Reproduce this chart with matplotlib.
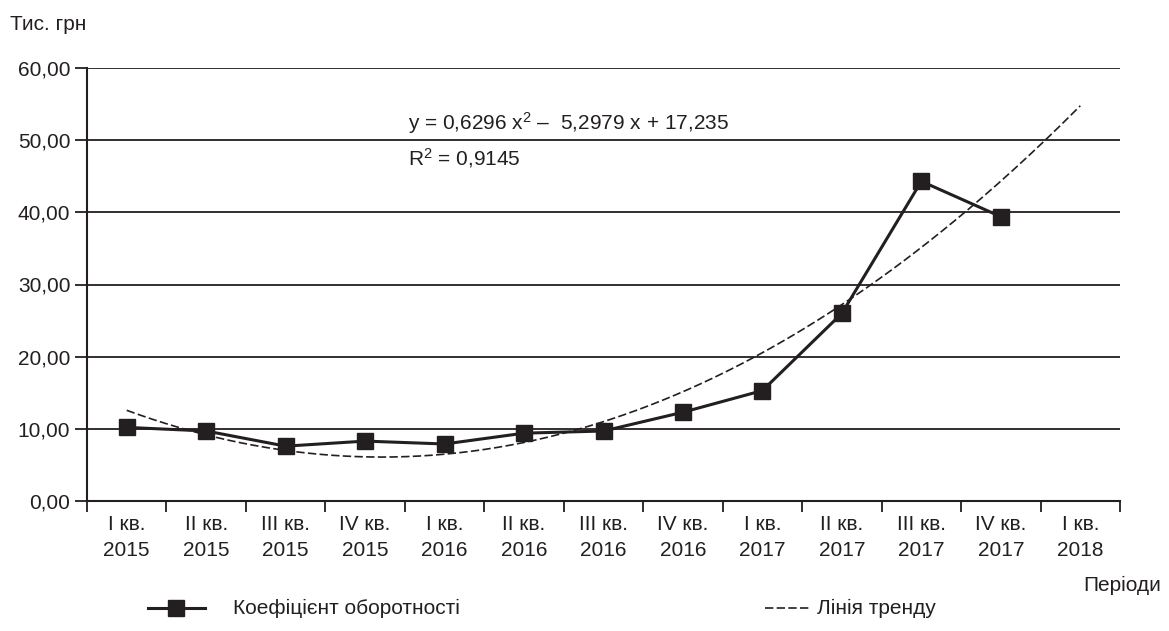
import matplotlib
matplotlib.use("Agg")
import matplotlib.pyplot as plt
from matplotlib.lines import Line2D
import numpy as np

plt.rcParams['font.family'] = ['Liberation Sans', 'DejaVu Sans']
plt.rcParams['mathtext.fontset'] = 'custom'
plt.rcParams['mathtext.rm'] = 'Liberation Sans'
plt.rcParams['mathtext.it'] = 'Liberation Sans'

# Quarterly periods (the last one is a forecast period for the trend)
periods = ["I кв.\n2015", "II кв.\n2015", "III кв.\n2015", "IV кв.\n2015",
           "I кв.\n2016", "II кв.\n2016", "III кв.\n2016", "IV кв.\n2016",
           "I кв.\n2017", "II кв.\n2017", "III кв.\n2017", "IV кв.\n2017",
           "I кв.\n2018"]
turnover = [10.2, 9.7, 7.6, 8.3, 7.9, 9.4, 9.7, 12.3, 15.3, 26.0, 44.3, 39.4]

# Polynomial trend coefficients
trend_a, trend_b, trend_c = 0.6296, -5.2979, 17.235
r_squared = "0,9145"

yticks = [0, 10, 20, 30, 40, 50, 60]
ytick_labels = ["0,00", "10,00", "20,00", "30,00", "40,00", "50,00", "60,00"]

W, H = 1169, 631
fig = plt.figure(figsize=(W / 100, H / 100), dpi=100)
ax = fig.add_axes([87 / W, 1 - 501 / H, (1120 - 87) / W, (501 - 68) / H])

ink = "#231f20"
fs = 15

x_data = np.arange(1, len(turnover) + 1)
x_trend = np.linspace(1, len(periods), 300)
y_trend = trend_a * x_trend ** 2 + trend_b * x_trend + trend_c

for y in yticks[1:]:
    ax.axhline(y, color=ink, lw=1.3, zorder=1)

ax.plot(x_trend, y_trend, color=ink, lw=1.2, dashes=(5, 2), zorder=2)
ax.plot(x_data, turnover, color=ink, lw=2.2, marker="s", markersize=12,
        markerfacecolor=ink, markeredgecolor=ink, zorder=3)

ax.set_xlim(0.5, len(periods) + 0.5)
ax.set_ylim(0, 60)
ax.set_yticks(yticks)
ax.set_yticklabels(ytick_labels, fontsize=fs, color=ink)
ax.tick_params(axis="y", direction="out", length=9, width=1.3, color=ink, pad=3)

ax.set_xticks(np.arange(0.5, len(periods) + 1, 1))
ax.set_xticklabels([])
ax.set_xticks(np.arange(1, len(periods) + 1), minor=True)
ax.set_xticklabels(periods, minor=True, fontsize=fs, color=ink, linespacing=1.5)
ax.tick_params(axis="x", which="major", direction="out", length=8, width=1.3, color=ink)
ax.tick_params(axis="x", which="minor", length=0, pad=10)

for side in ("top", "right"):
    ax.spines[side].set_visible(False)
for side in ("left", "bottom"):
    ax.spines[side].set_color(ink)
    ax.spines[side].set_linewidth(1.5)

ax.text(4.54, 51.5, "y = 0,6296 x$^{2}$ –  5,2979 x + 17,235", fontsize=fs,
        color=ink, va="baseline", ha="left")
ax.text(4.54, 46.5, "R$^{2}$ = " + r_squared, fontsize=fs, color=ink,
        va="baseline", ha="left")

fig.text(10 / W, 1 - 30 / H, "Тис. грн", fontsize=fs, color=ink,
         ha="left", va="baseline")
fig.text(1161 / W, 1 - 591 / H, "Періоди", fontsize=fs, color=ink,
         ha="right", va="baseline")

# Legend drawn at the bottom of the figure
ly = 1 - 608 / H
fig.add_artist(Line2D([148 / W, 205 / W], [ly, ly], transform=fig.transFigure,
                      color=ink, lw=2.2))
fig.add_artist(Line2D([176 / W], [ly], transform=fig.transFigure, color=ink,
                      marker="s", markersize=12, markerfacecolor=ink,
                      markeredgecolor=ink, lw=0))
fig.text(233 / W, ly, "Коефіцієнт оборотності", fontsize=fs, color=ink,
         ha="left", va="center")
fig.add_artist(Line2D([765 / W, 810 / W], [ly, ly], transform=fig.transFigure,
                      color=ink, lw=1.2, dashes=(5, 2)))
fig.text(817 / W, ly, "Лінія тренду", fontsize=fs, color=ink,
         ha="left", va="center")

fig.savefig("out.png", dpi=100, facecolor="white")
